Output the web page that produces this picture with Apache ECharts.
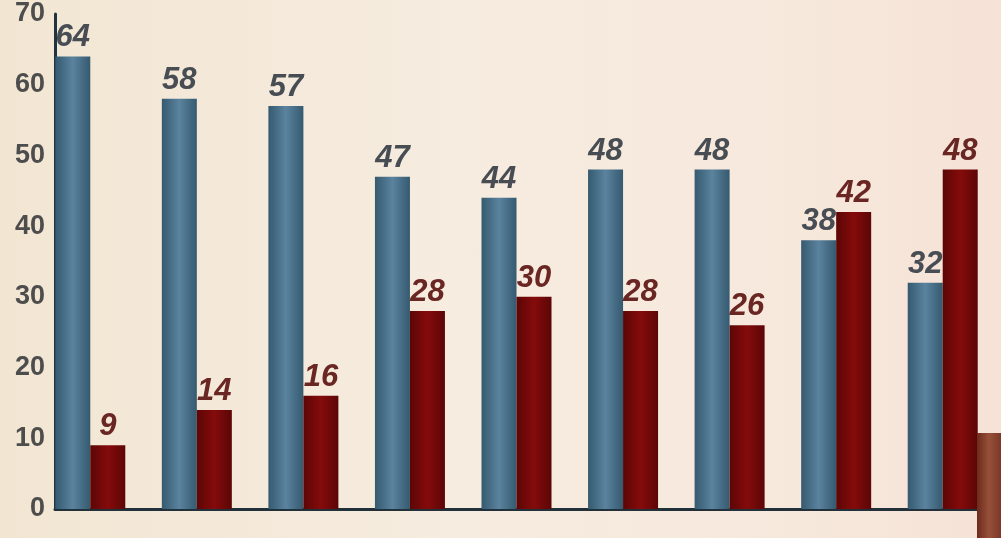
<!DOCTYPE html>
<html>
<head>
<meta charset="utf-8">
<script src="https://cdn.jsdelivr.net/npm/echarts@6/dist/echarts.min.js"></script>
<style>
  html, body { margin: 0; padding: 0; }
  body { background: linear-gradient(90deg, #f2e6d3 0%, #f6ecdf 45%, #f7e8dc 80%, #f6e2d6 100%); }
  #chart { width: 1001px; height: 538px; }
</style>
</head>
<body>
<div id="chart"></div>
<script>
// data
var categories = ['1', '2', '3', '4', '5', '6', '7', '8', '9'];
var blueValues = [64, 58, 57, 47, 44, 48, 48, 38, 32];
var redValues = [9, 14, 16, 28, 30, 28, 26, 42, 48];
var yTicks = [0, 10, 20, 30, 40, 50, 60, 70];

var chart = echarts.init(document.getElementById('chart'));

function barGrad(edge, mid) {
    return new echarts.graphic.LinearGradient(0, 0, 1, 0, [
        {offset: 0, color: edge},
        {offset: 0.5, color: mid},
        {offset: 1, color: edge}
    ]);
}

var labelFont = {
    show: true,
    position: 'top',
    distance: 3,
    fontFamily: 'Liberation Sans, Arial, sans-serif',
    fontWeight: 'bold',
    fontStyle: 'italic',
    fontSize: 31
};

var option = {
    backgroundColor: 'transparent',
    animation: false,
    grid: [
        // bars
        {left: 37, right: 5, top: 14, bottom: 29},
        // visible axes only
        {left: 55, right: 24, top: 14, bottom: 29}
    ],
    xAxis: [
        {
            type: 'category',
            gridIndex: 0,
            data: categories,
            axisLine: {show: false},
            axisTick: {show: false},
            axisLabel: {show: false}
        },
        {
            type: 'category',
            gridIndex: 1,
            data: categories,
            axisLine: {show: true, lineStyle: {color: '#22303a', width: 3}},
            axisTick: {show: false},
            axisLabel: {show: false}
        }
    ],
    yAxis: [
        {
            type: 'value',
            gridIndex: 0,
            min: yTicks[0],
            max: yTicks[yTicks.length - 1],
            interval: 10,
            axisLine: {show: false},
            axisTick: {show: false},
            axisLabel: {show: false},
            splitLine: {show: false}
        },
        {
            type: 'value',
            gridIndex: 1,
            min: yTicks[0],
            max: yTicks[yTicks.length - 1],
            interval: 10,
            axisLine: {show: true, lineStyle: {color: '#1f3340', width: 3}},
            axisTick: {show: false},
            splitLine: {show: false},
            axisLabel: {
                margin: 10,
                color: '#4d4d4d',
                fontFamily: 'Liberation Sans, Arial, sans-serif',
                fontWeight: 'bold',
                fontSize: 27
            }
        }
    ],
    series: [
        {
            type: 'bar',
            xAxisIndex: 0,
            yAxisIndex: 0,
            data: blueValues,
            barWidth: 35,
            barGap: '0%',
            itemStyle: {color: barGrad('#355a70', '#5b839e')},
            label: Object.assign({color: '#484d54'}, labelFont),
            z: 3
        },
        {
            type: 'bar',
            xAxisIndex: 0,
            yAxisIndex: 0,
            data: redValues,
            barWidth: 35,
            barGap: '0%',
            itemStyle: {color: barGrad('#5c0606', '#850b0b')},
            label: Object.assign({color: '#6a2622'}, labelFont),
            z: 3
        }
    ],
    graphic: [
        {
            type: 'rect',
            right: 0,
            bottom: 0,
            z: 10,
            shape: {width: 24, height: 105},
            style: {fill: new echarts.graphic.LinearGradient(0, 0, 1, 0, [
                {offset: 0, color: '#6e2a1c'},
                {offset: 0.5, color: '#96503a'},
                {offset: 1, color: '#7a3826'}
            ])}
        }
    ]
};

chart.setOption(option);
</script>
</body>
</html>
